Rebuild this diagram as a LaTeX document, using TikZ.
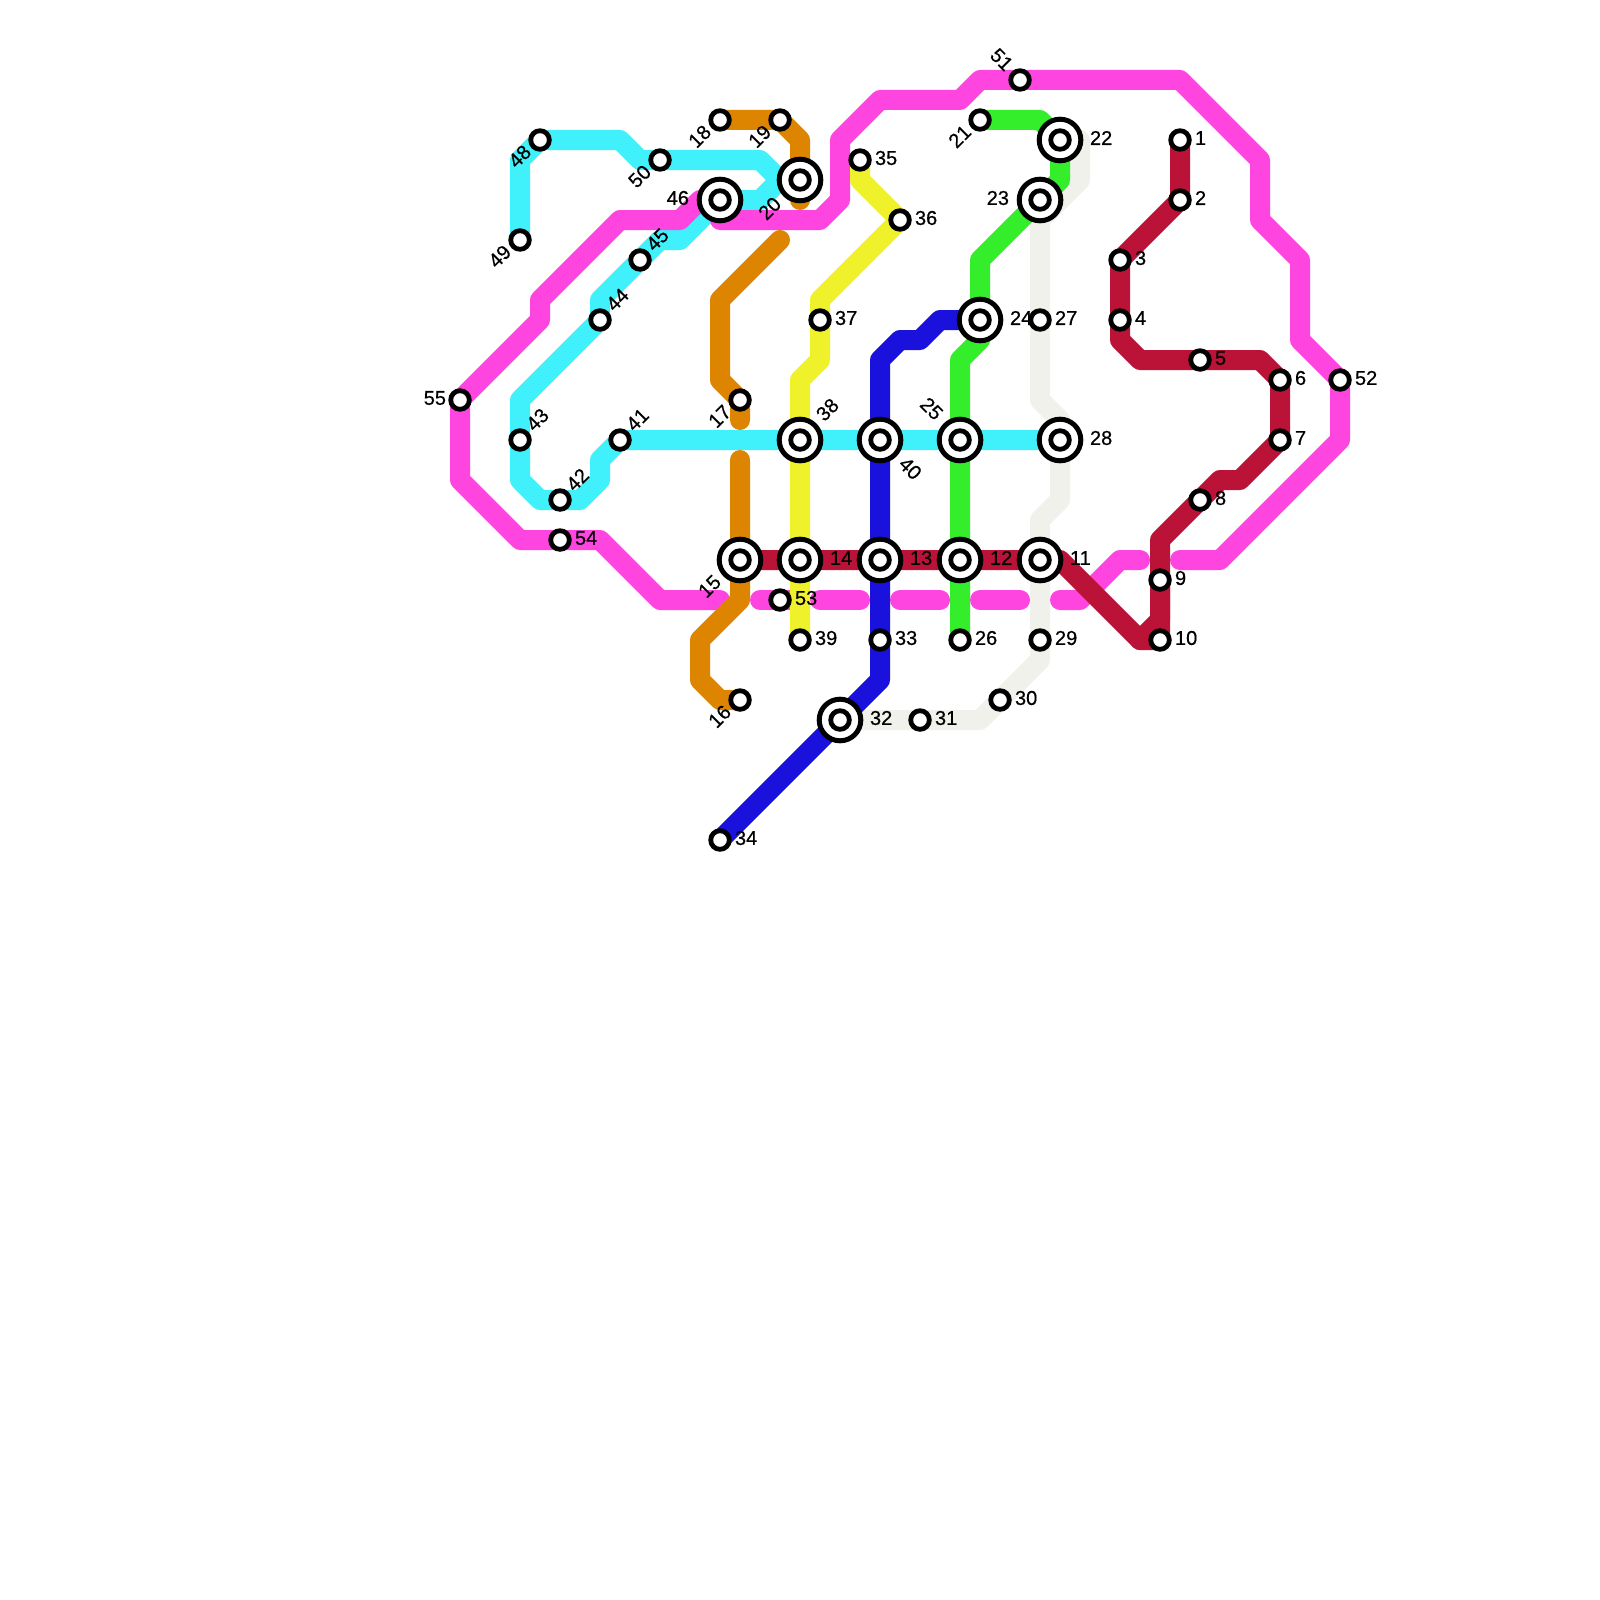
\documentclass[tikz,border=0pt]{standalone}
\usepackage{fontspec}
\setmainfont{Liberation Sans}
\newfontfamily\lblfont[FakeBold=0.5]{Liberation Sans}
\usetikzlibrary{backgrounds}
\definecolor{cpink}{HTML}{FF45E0}
\definecolor{ccyan}{HTML}{40F0FB}
\definecolor{corange}{HTML}{DD8500}
\definecolor{cyellow}{HTML}{EFF22A}
\definecolor{cblue}{HTML}{1A12DC}
\definecolor{cgreen}{HTML}{35EE2B}
\definecolor{cred}{HTML}{BB1238}
\definecolor{cgray}{HTML}{F0F1EA}
\tikzset{
  metro/.style={line width=10pt,line cap=round,line join=round},
  stsmall/.style={circle,draw=black,fill=white,line width=2.4pt,minimum size=9.3pt,inner sep=0pt,outer sep=0pt},
  stbig/.style={circle,draw=black,fill=white,line width=2.5pt,minimum size=20.8pt,inner sep=0pt,outer sep=0pt},
  lbl/.style={inner sep=0pt,outer sep=0pt,font=\lblfont\fontsize{10pt}{11pt}\selectfont,text=black},
  lr/.style={lbl,anchor=west},
  ll/.style={lbl,anchor=east},
  lu/.style={lbl,rotate=45,anchor=west},
  ld/.style={lbl,rotate=45,anchor=east},
  lx/.style={lbl,rotate=-45,anchor=east},
  ly/.style={lbl,rotate=-45,anchor=west},
}
\newcommand\stS[3]{\node[stsmall] (s#1) at (#2,#3) {};}
\newcommand\stB[3]{\node[stbig] (o#1) at (#2,#3) {};\node[stsmall] (s#1) at (#2,#3) {};}
\newcommand\lab[5]{\node[#1] (l#2) at ([shift={(#3,#4)}]s#2.center) {#5};}
\begin{document}
\begin{tikzpicture}[x=0.5pt,y=-0.5pt]
\useasboundingbox (0,0) rectangle (1600,1600);
% stations
\stS{1}{1180}{140} \stS{2}{1180}{200} \stS{3}{1120}{260} \stS{4}{1120}{320}
\stS{5}{1200}{360} \stS{6}{1280}{380} \stS{7}{1280}{440} \stS{8}{1200}{500}
\stS{9}{1160}{580} \stS{10}{1160}{640} \stB{11}{1040}{560} \stB{12}{960}{560}
\stB{13}{880}{560} \stB{14}{800}{560} \stB{15}{740}{560} \stS{16}{740}{700}
\stS{17}{740}{400} \stS{18}{720}{120} \stS{19}{780}{120} \stB{20}{800}{180}
\stS{21}{980}{120} \stB{22}{1060}{140} \stB{23}{1040}{200} \stB{24}{980}{320}
\stB{25}{960}{440} \stS{26}{960}{640} \stS{27}{1040}{320} \stB{28}{1060}{440}
\stS{29}{1040}{640} \stS{30}{1000}{700} \stS{31}{920}{720} \stB{32}{840}{720}
\stS{33}{880}{640} \stS{34}{720}{840} \stS{35}{860}{160} \stS{36}{900}{220}
\stS{37}{820}{320} \stB{38}{800}{440} \stS{39}{800}{640} \stB{40}{880}{440}
\stS{41}{620}{440} \stS{42}{560}{500} \stS{43}{520}{440} \stS{44}{600}{320}
\stS{45}{640}{260} \stB{46}{720}{200} \stS{48}{540}{140} \stS{49}{520}{240}
\stS{50}{660}{160} \stS{51}{1020}{80} \stS{52}{1340}{380} \stS{53}{780}{600}
\stS{54}{560}{540} \stS{55}{460}{400}
% free ends of connectors
\coordinate (oA) at (780,240);
\coordinate (oB) at (740,420);
\coordinate (oC) at (740,460);
\coordinate (oD) at (800,200);
\coordinate (pA) at (720,600);
\coordinate (pB) at (760,600);
\coordinate (pC) at (790,600);
\coordinate (pD) at (820,600);
\coordinate (pE) at (860,600);
\coordinate (pF) at (900,600);
\coordinate (pG) at (940,600);
\coordinate (pH) at (980,600);
\coordinate (pI) at (1020,600);
\coordinate (pJ) at (1060,600);
\coordinate (pK) at (1140,560);
\coordinate (pL) at (1180,560);
\begin{pgfonlayer}{background}
\fill[white] (0,0) rectangle (1600,1600);
% gray
\draw[metro,cgray] (s22.center) -- (1080,140) -- (1080,180) -- (1040,220) -- (s23.center) -- (s27.center) -- (1040,400) -- (1060,420) -- (s28.center) -- (1060,500) -- (1040,520) -- (s11.center) -- (s29.center) -- (1040,660) -- (s30.center) -- (980,720) -- (s31.center) -- (s32.center);
% cyan
\draw[metro,ccyan] (s49.center) -- (520,160) -- (s48.center) -- (620,140) -- (640,160) -- (s50.center) -- (760,160) -- (780,180) -- (760,200) -- (s46.center) -- (680,240) -- (660,240) -- (s45.center) -- (600,300) -- (s44.center) -- (520,400) -- (s43.center) -- (520,480) -- (540,500) -- (580,500) -- (600,480) -- (600,460) -- (s41.center) -- (s38.center) -- (s40.center) -- (s25.center) -- (s28.center);
% pink
\draw[metro,cpink] (s46.center) -- (700,200) -- (680,220) -- (620,220) -- (540,300) -- (540,320) -- (s55.center) -- (460,480) -- (520,540) -- (s54.center) -- (600,540) -- (660,600) -- (pA);
\draw[metro,cpink] (s46.center) -- (720,220) -- (820,220) -- (840,200) -- (840,140) -- (880,100) -- (960,100) -- (980,80) -- (s51.center) -- (1180,80) -- (1260,160) -- (1260,220) -- (1300,260) -- (1300,340) -- (s52.center) -- (1340,440) -- (1220,560) -- (pL);
\draw[metro,cpink] (pB) -- (pC);
\draw[metro,cpink] (pD) -- (pE);
\draw[metro,cpink] (pF) -- (pG);
\draw[metro,cpink] (pH) -- (pI);
\draw[metro,cpink] (pJ) -- (1080,600) -- (1120,560) -- (pK);
% orange
\draw[metro,corange] (s18.center) -- (s19.center) -- (800,140) -- (s20.center) -- (oD);
\draw[metro,corange] (oA) -- (720,300) -- (720,380) -- (s17.center) -- (oB);
\draw[metro,corange] (oC) -- (s15.center) -- (740,600) -- (700,640) -- (700,680) -- (720,700) -- (s16.center);
% yellow
\draw[metro,cyellow] (s35.center) -- (860,180) -- (s36.center) -- (820,300) -- (s37.center) -- (820,360) -- (800,380) -- (s38.center) -- (s14.center) -- (s39.center);
% blue
\draw[metro,cblue] (s24.center) -- (940,320) -- (920,340) -- (900,340) -- (880,360) -- (s40.center) -- (s13.center) -- (s33.center) -- (880,680) -- (s32.center) -- (s34.center);
% green
\draw[metro,cgreen] (s21.center) -- (1040,120) -- (s22.center) -- (1060,180) -- (s23.center) -- (980,260) -- (s24.center) -- (980,340) -- (960,360) -- (s25.center) -- (s12.center) -- (s26.center);
% red
\draw[metro,cred] (s1.center) -- (s2.center) -- (s3.center) -- (s4.center) -- (1120,340) -- (1140,360) -- (s5.center) -- (1260,360) -- (s6.center) -- (s7.center) -- (1240,480) -- (1220,480) -- (s8.center) -- (1160,540) -- (s9.center) -- (s10.center) -- (1140,640) -- (1060,560) -- (s11.center) -- (s12.center) -- (s13.center) -- (s14.center) -- (s15.center);
\draw[metro,cred] (s9.center) -- (1160,620) -- (1140,640);
\end{pgfonlayer}
% labels
\foreach \n in {1,2,3,4,5,6,7,8,9,10,26,27,29,30,31,33,34,35,36,37,39,52,53,54}{\lab{lr}{\n}{15}{-2}{\n}}
\foreach \n in {11,12,13,14,22,24,28,32}{\lab{lr}{\n}{30}{-2}{\n}}
\lab{ll}{55}{-14}{-2}{55}
\lab{ll}{46}{-31}{-2}{46}
\lab{ll}{23}{-31}{-2}{23}
\foreach \n in {41,42,43,44,45}{\lab{lu}{\n}{9.5}{-12.5}{\n}}
\lab{lu}{38}{19.5}{-22.5}{38}
\foreach \n in {16,17,18,19,21,48,49,50}{\lab{ld}{\n}{-12.5}{8.5}{\n}}
\lab{ld}{15}{-22.5}{18.5}{15}
\lab{ld}{20}{-22.5}{20.5}{20}
\lab{lx}{25}{-20.5}{-23.5}{25}
\lab{lx}{51}{-10.5}{-12.5}{51}
\lab{ly}{40}{22.5}{20.5}{40}
\end{tikzpicture}
\end{document}
